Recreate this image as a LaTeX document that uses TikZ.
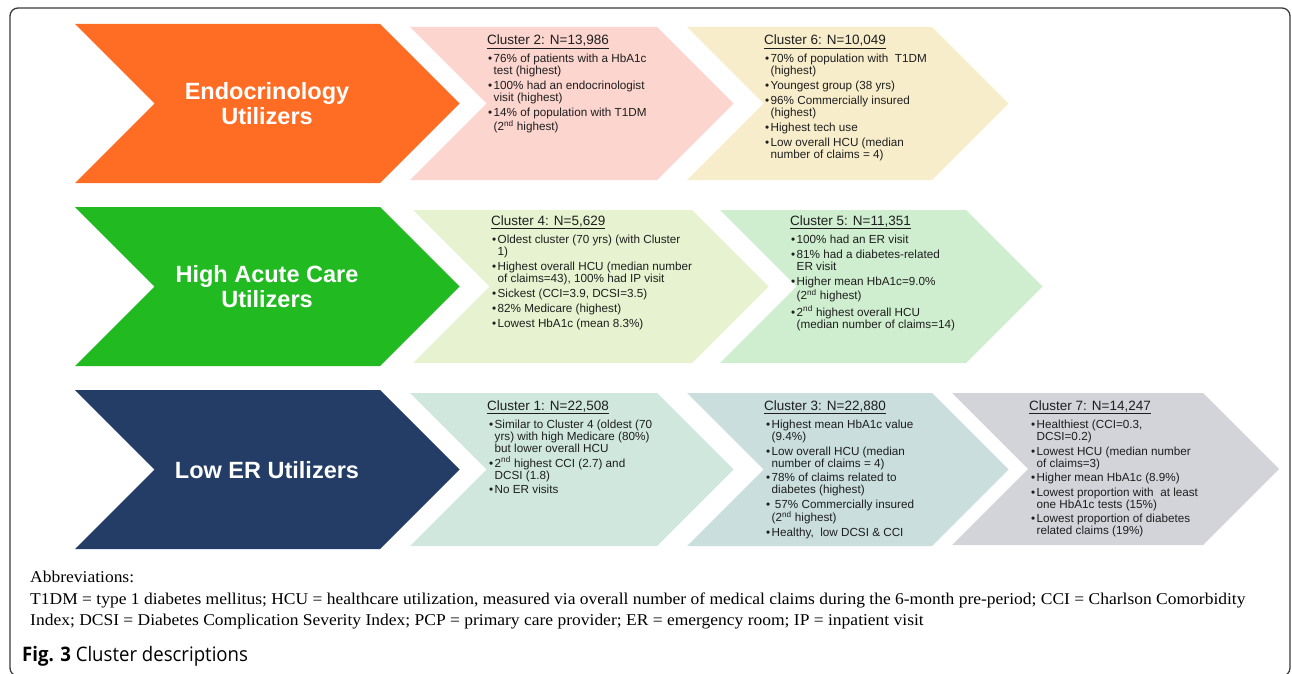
\documentclass[tikz,border=0pt]{standalone}
\usepackage{fontspec}
\setmainfont{Liberation Serif}
\setsansfont{Liberation Sans}
\newfontfamily\abbrfont[FakeStretch=1.06]{Liberation Serif}
\newfontfamily\figcaptionfont[FakeStretch=0.93]{Open Sans}
\usepackage{xcolor}
\usepackage{tikz}
\usetikzlibrary{positioning}
\definecolor{clusterInk}{HTML}{1E1E1E}
\definecolor{frameGray}{HTML}{3A3A3A}
\definecolor{endoOrange}{HTML}{FF6D24}
\definecolor{endoPink}{HTML}{FCD5CE}
\definecolor{endoCream}{HTML}{F8EDCB}
\definecolor{acuteGreen}{HTML}{21BA21}
\definecolor{acuteLime}{HTML}{E7F3D0}
\definecolor{acuteMint}{HTML}{CFEECF}
\definecolor{erNavy}{HTML}{243D66}
\definecolor{erTeal}{HTML}{CFE7DD}
\definecolor{erSlate}{HTML}{C9DEDD}
\definecolor{erGray}{HTML}{D3D4DA}
% bullet lines: mark + hanging indent
\newcommand{\bulletItem}{\makebox[5.5pt][l]{\textbullet}}
\newcommand{\bulletCont}{\hspace*{5.5pt}}
% chevron: fill, left x, top y, top-right x, height
\newcommand{\chevron}[5]{%
  \fill[#1] (#2,#3) -- (#4,#3) -- ++(#5/2,#5/2) -- ++(-#5/2,#5/2)
    -- (#2,#3+#5) -- ++(#5/2,-#5/2) -- cycle;}
\tikzset{
  groupLabel/.style={
    text=white,
    align=center,
    inner sep=0pt,
    font=\sffamily\bfseries\fontsize{23.5}{25}\selectfont
  },
  clusterHead/.style={
    anchor=base west,
    inner sep=0pt,
    text=clusterInk,
    font=\sffamily\fontsize{13.5}{15}\selectfont
  },
  clusterText/.style={
    anchor=north west,
    inner sep=0pt,
    align=left,
    text=clusterInk,
    font=\sffamily\fontsize{11.7}{12}\selectfont
  },
  abbrText/.style={
    anchor=base west,
    inner sep=0pt,
    font=\abbrfont\fontsize{16.5}{18}\selectfont
  }
}

\begin{document}
\begin{tikzpicture}[x=1pt,y=-1pt]
  \useasboundingbox (0,0) rectangle (1292,674);
  \draw[frameGray,line width=1.3pt,rounded corners=8pt] (10,8) rectangle (1290,676);

  % row 1
  \chevron{endoOrange}{75}{24}{380}{159}
  \chevron{endoPink}{410}{27}{657}{153}
  \chevron{endoCream}{687}{27}{932}{153}
  % row 2
  \chevron{acuteGreen}{75}{207}{380}{159}
  \chevron{acuteLime}{413}{210}{692}{153}
  \chevron{acuteMint}{720}{210}{966}{153}
  % row 3
  \chevron{erNavy}{75}{390}{380}{159}
  \chevron{erTeal}{410}{393}{657}{153}
  \chevron{erSlate}{687}{393}{932}{153}
  \chevron{erGray}{952}{393}{1203}{152}

  \node[groupLabel] (endo) at (267,104) {Endocrinology\\Utilizers};
  \node[groupLabel] (acute) at (267,287) {High Acute Care\\Utilizers};
  \node[groupLabel] (lowER) at (267,470) {Low ER Utilizers};

  \node[clusterHead] (c2head) at (487,45) {\underline{Cluster 2: N=13,986}};
  \node[clusterText] (c2) at (488,54) {%
    \bulletItem 76\% of patients with a HbA1c\\
    \bulletCont test (highest)\\[3pt]
    \bulletItem 100\% had an endocrinologist\\
    \bulletCont visit (highest)\\[3pt]
    \bulletItem 14\% of population with T1DM\\
    \bulletCont (2\textsuperscript{nd} highest)};

  \node[clusterHead] (c6head) at (764,45) {\underline{Cluster 6: N=10,049}};
  \node[clusterText] (c6) at (765,54) {%
    \bulletItem 70\% of population with \ T1DM\\
    \bulletCont (highest)\\[3pt]
    \bulletItem Youngest group (38 yrs)\\[3pt]
    \bulletItem 96\% Commercially insured\\
    \bulletCont (highest)\\[3pt]
    \bulletItem Highest tech use\\[3pt]
    \bulletItem Low overall HCU (median\\
    \bulletCont number of claims = 4)};

  \node[clusterHead] (c4head) at (491,225) {\underline{Cluster 4: N=5,629}};
  \node[clusterText] (c4) at (492,235) {%
    \bulletItem Oldest cluster (70 yrs) (with Cluster\\
    \bulletCont 1)\\[3pt]
    \bulletItem Highest overall HCU (median number\\
    \bulletCont of claims=43), 100\% had IP visit\\[3pt]
    \bulletItem Sickest (CCI=3.9, DCSI=3.5)\\[3pt]
    \bulletItem 82\% Medicare (highest)\\[3pt]
    \bulletItem Lowest HbA1c (mean 8.3\%)};

  \node[clusterHead] (c5head) at (790,225) {\underline{Cluster 5: N=11,351}};
  \node[clusterText] (c5) at (791,235) {%
    \bulletItem 100\% had an ER visit\\[3pt]
    \bulletItem 81\% had a diabetes-related\\
    \bulletCont ER visit\\[3pt]
    \bulletItem Higher mean HbA1c=9.0\%\\
    \bulletCont (2\textsuperscript{nd} highest)\\[3pt]
    \bulletItem 2\textsuperscript{nd} highest overall HCU\\
    \bulletCont (median number of claims=14)};

  \node[clusterHead] (c1head) at (487,410) {\underline{Cluster 1: N=22,508}};
  \node[clusterText] (c1) at (489,420) {%
    \bulletItem Similar to Cluster 4 (oldest (70\\
    \bulletCont yrs) with high Medicare (80\%)\\
    \bulletCont but lower overall HCU\\[2.5pt]
    \bulletItem 2\textsuperscript{nd} highest CCI (2.7) and\\
    \bulletCont DCSI (1.8)\\[2.5pt]
    \bulletItem No ER visits};

  \node[clusterHead] (c3head) at (764,410) {\underline{Cluster 3: N=22,880}};
  \node[clusterText] (c3) at (766,420) {%
    \bulletItem Highest mean HbA1c value\\
    \bulletCont (9.4\%)\\[2.5pt]
    \bulletItem Low overall HCU (median\\
    \bulletCont number of claims = 4)\\[2.5pt]
    \bulletItem 78\% of claims related to\\
    \bulletCont diabetes (highest)\\[2.5pt]
    \bulletItem \ 57\% Commercially insured\\
    \bulletCont (2\textsuperscript{nd} highest)\\[2.5pt]
    \bulletItem Healthy, \ low DCSI \& CCI};

  \node[clusterHead] (c7head) at (1029,410) {\underline{Cluster 7: N=14,247}};
  \node[clusterText] (c7) at (1031,420) {%
    \bulletItem Healthiest (CCI=0.3,\\
    \bulletCont DCSI=0.2)\\[2.5pt]
    \bulletItem Lowest HCU (median number\\
    \bulletCont of claims=3)\\[2.5pt]
    \bulletItem Higher mean HbA1c (8.9\%)\\[2.5pt]
    \bulletItem Lowest proportion with \ at least\\
    \bulletCont one HbA1c tests (15\%)\\[2.5pt]
    \bulletItem Lowest proportion of diabetes\\
    \bulletCont related claims (19\%)};

  % footnote and caption
  \node[abbrText] (abbrHead) at (30,582) {Abbreviations:};
  \node[abbrText] (abbrOne) at (30,604) {T1DM = type 1 diabetes mellitus; HCU = healthcare utilization, measured via overall number of medical claims during the 6-month pre-period; CCI = Charlson Comorbidity};
  \node[abbrText] (abbrTwo) at (30,625) {Index; DCSI = Diabetes Complication Severity Index; PCP = primary care provider; ER = emergency room; IP = inpatient visit};
  \node[anchor=base west,inner sep=0pt,font=\figcaptionfont\fontsize{20}{22}\selectfont] (caption) at (22,661) {\textbf{Fig. 3} Cluster descriptions};
\end{tikzpicture}
\end{document}
